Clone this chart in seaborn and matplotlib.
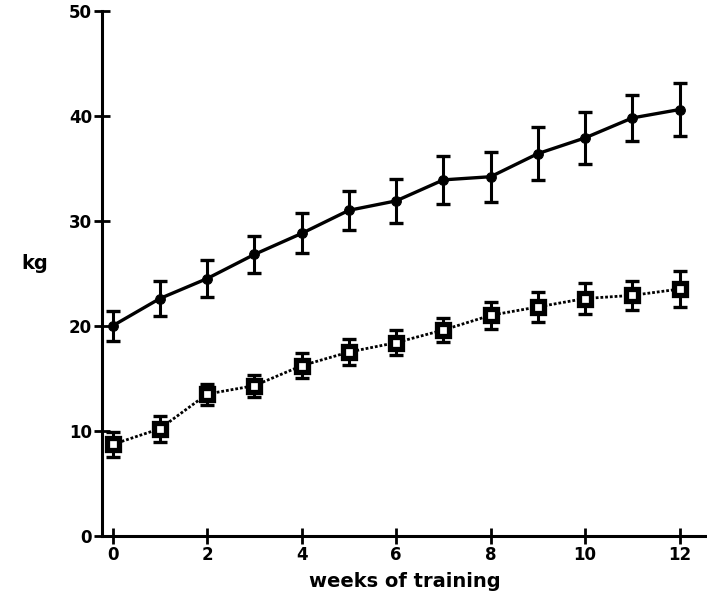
import matplotlib
matplotlib.use("Agg")
import matplotlib.pyplot as plt
import seaborn as sns
import pandas as pd

weeks = [0, 1, 2, 3, 4, 5, 6, 7, 8, 9, 10, 11, 12]
upper_mean = [20.0, 22.6, 24.5, 26.8, 28.8, 31.0, 31.9, 33.9, 34.2, 36.4, 37.9, 39.8, 40.6]
upper_err = [1.45, 1.65, 1.8, 1.75, 1.9, 1.85, 2.1, 2.3, 2.4, 2.5, 2.45, 2.2, 2.5]
lower_mean = [8.7, 10.2, 13.5, 14.3, 16.2, 17.5, 18.4, 19.6, 21.0, 21.8, 22.6, 22.9, 23.5]
lower_err = [1.2, 1.25, 1.0, 1.05, 1.2, 1.2, 1.2, 1.15, 1.3, 1.4, 1.5, 1.35, 1.75]
y_ticks = [0, 10, 20, 30, 40, 50]
x_ticks = [0, 2, 4, 6, 8, 10, 12]

df_u = pd.DataFrame({"week": weeks, "kg": upper_mean})
df_l = pd.DataFrame({"week": weeks, "kg": lower_mean})

sns.set_style("ticks")
plt.rcParams["font.family"] = ["DejaVu Sans"]
plt.rcParams["font.weight"] = "bold"
plt.rcParams["text.color"] = "black"
plt.rcParams["axes.labelcolor"] = "black"
plt.rcParams["xtick.color"] = "black"
plt.rcParams["ytick.color"] = "black"

fig = plt.figure(figsize=(7.07, 6.02), dpi=100)
ax = fig.add_axes([0.144, 0.110, 0.856, 0.872])

ax.errorbar(weeks, upper_mean, yerr=upper_err, fmt="none", ecolor="black",
            elinewidth=2.2, capsize=5, capthick=2.4, zorder=1)
ax.errorbar(weeks, lower_mean, yerr=lower_err, fmt="none", ecolor="black",
            elinewidth=2.2, capsize=5, capthick=2.4, zorder=1)

sns.lineplot(data=df_u, x="week", y="kg", ax=ax, color="black", lw=2.4,
             marker="o", markersize=7, markeredgecolor="black", markerfacecolor="black",
             zorder=3)
sns.lineplot(data=df_l, x="week", y="kg", ax=ax, color="black", lw=2.0,
             linestyle=(0, (1, 0.7)), marker="s", markersize=9,
             markeredgecolor="black", markerfacecolor="white", markeredgewidth=3.8,
             zorder=3)

ax.set_xlim(-0.23, 12.58)
ax.set_ylim(0, 50)
ax.set_xticks(x_ticks)
ax.set_yticks(y_ticks)
ax.set_xticklabels([str(t) for t in x_ticks], fontsize=12, fontweight="bold", color="black")
ax.set_yticklabels([str(t) for t in y_ticks], fontsize=12, fontweight="bold", color="black")
ax.tick_params(axis="both", direction="inout", length=12, width=2, color="black", pad=1)

for s in ["top", "right"]:
    ax.spines[s].set_visible(False)
for s in ["left", "bottom"]:
    ax.spines[s].set_linewidth(2.2)
    ax.spines[s].set_color("black")

ax.set_xlabel("weeks of training", fontsize=14, fontweight="bold", labelpad=6, color="black")
ax.set_ylabel("kg", fontsize=14, fontweight="bold", rotation=0, color="black")
ax.yaxis.set_label_coords(-0.11, 0.5)

fig.savefig("out.png", dpi=100)
